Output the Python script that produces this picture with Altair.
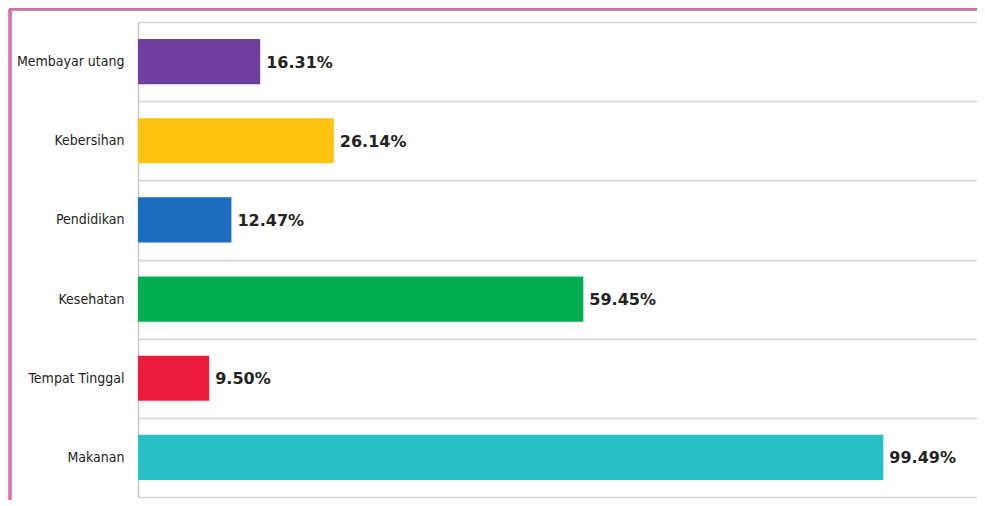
import altair as alt
import pandas as pd

categories = ["Membayar utang", "Kebersihan", "Pendidikan", "Kesehatan", "Tempat Tinggal", "Makanan"]
values = [16.31, 26.14, 12.47, 59.45, 9.50, 99.49]
labels = ["16.31%", "26.14%", "12.47%", "59.45%", "9.50%", "99.49%"]
colors = ["#7040a0", "#ffc20e", "#1c6cbf", "#00ad50", "#ec1c3c", "#27c0c6"]

df = pd.DataFrame({"cat": categories, "val": values, "lab": labels, "col": colors})

y = alt.Y("cat:N", sort=categories, title=None,
          scale=alt.Scale(paddingInner=0, paddingOuter=0),
          axis=alt.Axis(tickBand="extent", grid=True, gridColor="#d4d4d4", gridWidth=1.5,
                        ticks=False, domainColor="#c8c8c8", domainWidth=1.5,
                        labelFont="DejaVu Sans Condensed, Liberation Sans", labelFontSize=14,
                        labelColor="#222222", labelPadding=14))
x = alt.X("val:Q", scale=alt.Scale(domain=[0, 112]), axis=None)

bars = alt.Chart(df).mark_bar(height={"band": 0.57}).encode(
    x=x, y=y, color=alt.Color("col:N", scale=None))

text = alt.Chart(df).mark_text(align="left", baseline="middle", dx=6, dy=1,
                               font="DejaVu Sans", fontWeight="bold", fontSize=16,
                               color="#222222").encode(x=x, y=y, text="lab:N")

border_left = alt.Chart(df).mark_rule(color="#e070b0", strokeWidth=2.5).encode(
    x=alt.value(-128), y=alt.value(-13), y2=alt.value(490))
border_top = alt.Chart(df).mark_rule(color="#d070a8", strokeWidth=2.5).encode(
    x=alt.value(-129), x2=alt.value(839), y=alt.value(-13))

chart = alt.layer(bars, text, border_left, border_top).properties(
    width=839, height=475,
    autosize=alt.AutoSizeParams(type="none"),
    padding={"left": 130, "top": 14, "right": 0, "bottom": 3},
).configure_view(stroke=None).configure(background="white")

chart.save("out.html", embed_options={"renderer": "svg", "actions": False})
